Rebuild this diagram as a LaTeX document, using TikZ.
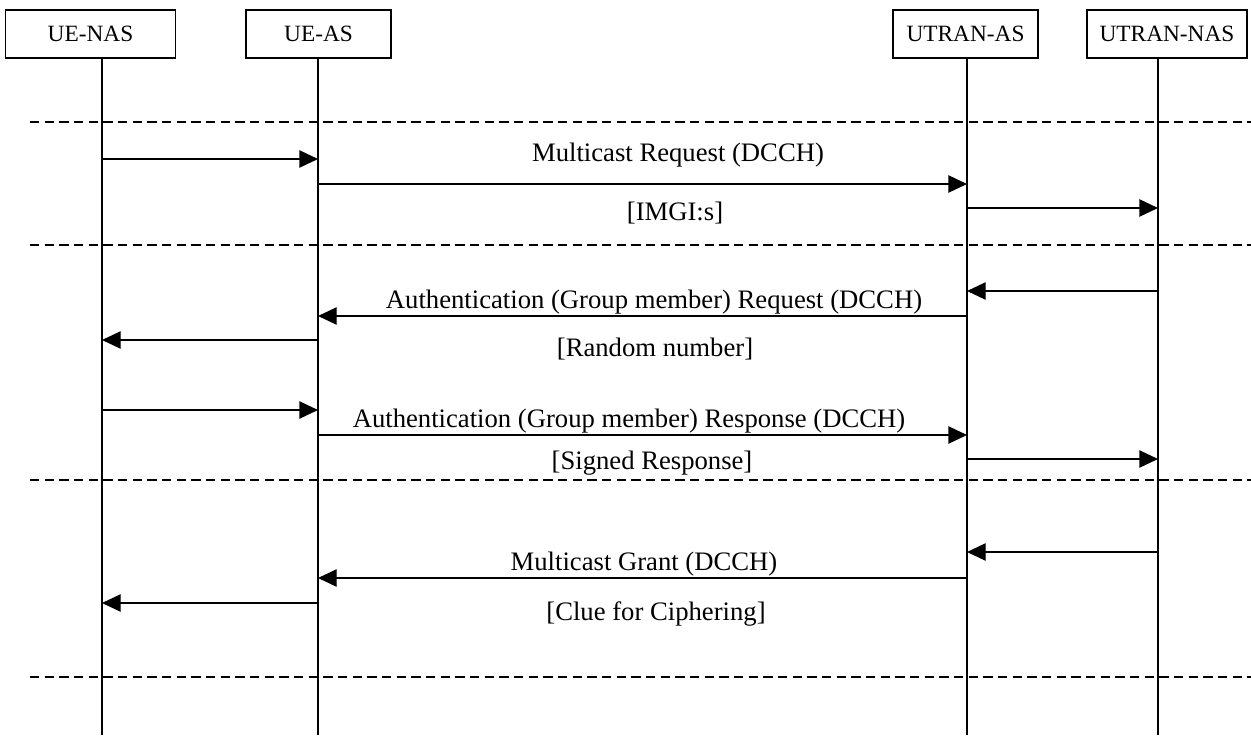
\documentclass[tikz,border=0pt]{standalone}
\usepackage{fontspec}
\setmainfont{Liberation Serif}
\usetikzlibrary{arrows.meta}
\begin{document}
\begin{tikzpicture}[x=0.75pt,y=-0.75pt, line width=1pt,
  entity/.style={draw, fill=white, minimum height=36pt, inner sep=0pt, font=\fontsize{17.5}{20}\selectfont},
  msg/.style={-{Triangle[length=14pt,width=13pt]}},
  sep/.style={dash pattern=on 7pt off 4pt},
  lbl/.style={font=\fontsize{20}{24}\selectfont, inner sep=0pt, anchor=base}]
\useasboundingbox (0,0) rectangle (1251,735);
% entities
\node[entity, minimum width=127.5pt] (uenas) at (90.5,34) {UE-NAS};
\node[entity, minimum width=108.75pt] (ueas) at (318.5,34) {UE-AS};
\node[entity, minimum width=108.75pt] (utas) at (965.5,34) {UTRAN-AS};
\node[entity, minimum width=120pt] (utnas) at (1167,34) {UTRAN-NAS};
% lifelines
\coordinate (a) at (102,58);  \coordinate (ab) at (102,735);
\coordinate (b) at (318,58);  \coordinate (bb) at (318,735);
\coordinate (c) at (967,58);  \coordinate (cb) at (967,735);
\coordinate (d) at (1158,58); \coordinate (db) at (1158,735);
\draw (a) -- (ab);
\draw (b) -- (bb);
\draw (c) -- (cb);
\draw (d) -- (db);
% separators
\foreach \y/\n in {122/s1,245/s2,480/s3,677/s4}{
  \coordinate (\n l) at (30,\y);
  \coordinate (\n r) at (1251,\y);
  \draw[sep] (\n l) -- (\n r);
}
% message rows
\coordinate (m1) at (0,159);
\coordinate (m2) at (0,184);
\coordinate (m3) at (0,208);
\coordinate (m4) at (0,291);
\coordinate (m5) at (0,316);
\coordinate (m6) at (0,340);
\coordinate (m7) at (0,410);
\coordinate (m8) at (0,435);
\coordinate (m9) at (0,459);
\coordinate (m10) at (0,552);
\coordinate (m11) at (0,578);
\coordinate (m12) at (0,603);
\draw[msg] (a |- m1) -- (b |- m1);
\draw[msg] (b |- m2) -- (c |- m2);
\draw[msg] (c |- m3) -- (d |- m3);
\draw[msg] (d |- m4) -- (c |- m4);
\draw[msg] (c |- m5) -- (b |- m5);
\draw[msg] (b |- m6) -- (a |- m6);
\draw[msg] (a |- m7) -- (b |- m7);
\draw[msg] (b |- m8) -- (c |- m8);
\draw[msg] (c |- m9) -- (d |- m9);
\draw[msg] (d |- m10) -- (c |- m10);
\draw[msg] (c |- m11) -- (b |- m11);
\draw[msg] (b |- m12) -- (a |- m12);
% labels
\node[lbl] (t1) at (678,161) {Multicast Request (DCCH)};
\node[lbl] (t2) at (675,220) {[IMGI:s]};
\node[lbl] (t3) at (654,308) {Authentication (Group member) Request (DCCH)};
\node[lbl] (t4) at (655,356) {[Random number]};
\node[lbl] (t5) at (629,427) {Authentication (Group member) Response (DCCH)};
\node[lbl] (t6) at (652,469) {[Signed Response]};
\node[lbl] (t7) at (644,570) {Multicast Grant (DCCH)};
\node[lbl] (t8) at (656,620) {[Clue for Ciphering]};
\end{tikzpicture}
\end{document}
